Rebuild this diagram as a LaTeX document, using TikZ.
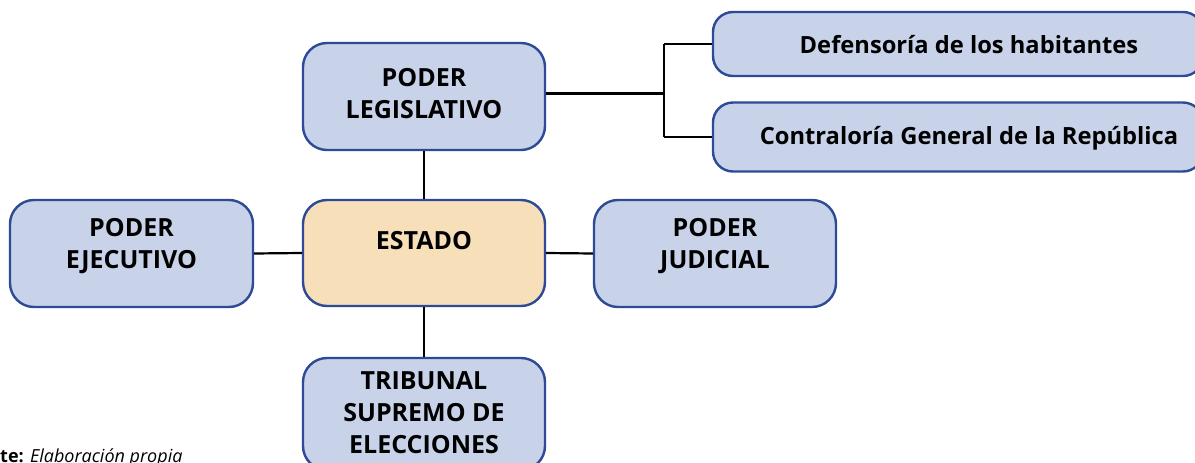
\documentclass[tikz,border=0pt]{standalone}
\usepackage{fontspec}
\setmainfont{Open Sans}
\definecolor{bdr}{RGB}{44,74,150}
\definecolor{lb}{RGB}{200,211,234}
\definecolor{tan}{RGB}{246,223,185}
\begin{document}
\begin{tikzpicture}[x=1pt,y=-1pt,
  box/.style={draw=bdr, fill=lb, line width=2.4pt, rounded corners=24pt, inner sep=0pt},
  lbl/.style={font=\fontsize{25}{32}\selectfont\bfseries, align=center, inner sep=0pt},
  lbls/.style={font=\fontsize{23.7}{30}\selectfont\bfseries, align=center, inner sep=0pt},
  conn/.style={line width=2.2pt, black}]
\useasboundingbox (0,0) rectangle (1195,463);
\clip (0,0) rectangle (1195,463);
% boxes
\node[box, minimum width=242pt, minimum height=107pt] (leg) at (424,96.5) {};
\node[box, fill=tan, minimum width=242pt, minimum height=106pt] (est) at (424,253) {};
\node[box, minimum width=243pt, minimum height=107pt] (eje) at (131.5,253.5) {};
\node[box, minimum width=242pt, minimum height=107pt] (jud) at (715,253.5) {};
\node[box, minimum width=242pt, minimum height=112pt] (tse) at (424,414) {};
\node[box, rounded corners=20pt, minimum width=490pt, minimum height=64pt] (def) at (958,44) {};
\node[box, rounded corners=20pt, minimum width=490pt, minimum height=69pt] (con) at (958,137) {};
% connectors
\coordinate (j) at (664,93.5);
\draw[conn] (leg.south) -- (est.north);
\draw[conn] (est.west) -- (eje.east);
\draw[conn] (est.east) -- (jud.west);
\draw[conn] (est.south) -- (tse.north);
\draw[conn] (leg.east |- j) -- (j);
\draw[conn] (j |- def.west) -- (def.west);
\draw[conn] (j |- con.west) -- (con.west);
\draw[conn] (j |- def.west) -- (j |- con.west);
% labels
\node[lbl] (legT) at (424,94) {PODER\\LEGISLATIVO};
\node[lbl] (estT) at (424,241) {ESTADO};
\node[lbl] (ejeT) at (131.5,246) {PODER\\EJECUTIVO};
\node[lbl] (judT) at (715,246) {PODER\\JUDICIAL};
\node[lbl] (tseT) at (424,413) {TRIBUNAL\\SUPREMO DE\\ELECCIONES};
\node[lbls] (defT) at (969,45) {Defensoría de los habitantes};
\node[lbls] (conT) at (969,138) {Contraloría General de la República};
\node[anchor=base west, inner sep=0pt, font=\fontsize{18}{22}\selectfont] (src) at (0,462)
  {\llap{\textbf{Fuen}}\textbf{te:} \textit{Elaboración propia}};
\end{tikzpicture}
\end{document}
